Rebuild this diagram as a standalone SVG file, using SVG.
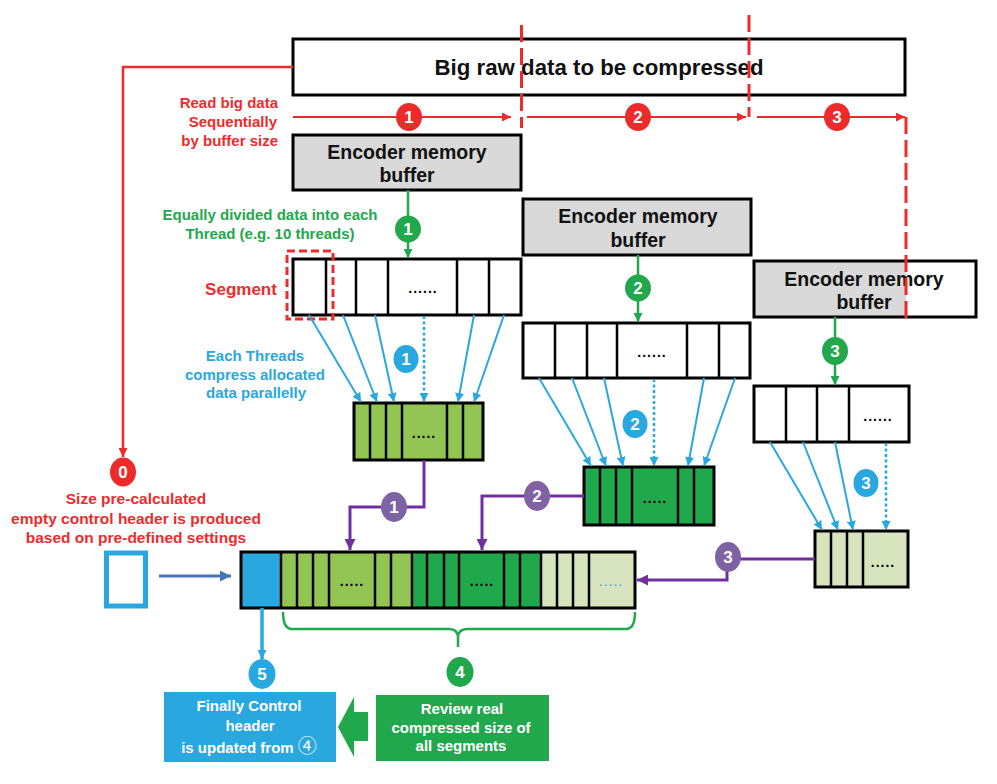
<svg xmlns="http://www.w3.org/2000/svg" width="997" height="784" viewBox="0 0 997 784">
<style>
text{font-family:"Liberation Sans","DejaVu Sans",Arial,sans-serif;font-weight:bold}
.box{fill:#fff;stroke:#000;stroke-width:3}
.enc{fill:#d9d9d9;stroke:#000;stroke-width:3}
.div{stroke:#000;stroke-width:2.5}
.t-enc{font-size:19.5px;fill:#111;text-anchor:middle}
.red{fill:#ee2b2b}
.grn{fill:#22a84c}
.blu{fill:#29a8e0}
.pur{fill:#7f62a4}
.num{font-size:17px;fill:#fff;text-anchor:middle}
.rdash{stroke:#ee2b2b;stroke-width:3;stroke-dasharray:17 6;fill:none}
.rline{stroke:#ee2b2b;stroke-width:2;fill:none}
.gline{stroke:#22a84c;stroke-width:2.5;fill:none}
.bline{stroke:#29a8e0;stroke-width:2;fill:none}
.bdot{stroke:#29a8e0;stroke-width:2.5;stroke-dasharray:3 2.5;fill:none}
.pline{stroke:#7030a0;stroke-width:3;fill:none}
.dots{font-size:14px;fill:#000;text-anchor:middle;letter-spacing:1px}
</style>
<defs>
<marker id="ar" viewBox="0 0 10 10" refX="10" refY="5" markerWidth="9" markerHeight="9" markerUnits="userSpaceOnUse" orient="auto"><path d="M0,0 L10,5 L0,10 z" fill="#ee2b2b"/></marker>
<marker id="ag" viewBox="0 0 10 10" refX="10" refY="5" markerWidth="9" markerHeight="9" markerUnits="userSpaceOnUse" orient="auto"><path d="M0,0 L10,5 L0,10 z" fill="#22a84c"/></marker>
<marker id="ab" viewBox="0 0 10 10" refX="10" refY="5" markerWidth="9" markerHeight="9" markerUnits="userSpaceOnUse" orient="auto"><path d="M0,0 L10,5 L0,10 z" fill="#29a8e0"/></marker>
<marker id="ap" viewBox="0 0 10 10" refX="10" refY="5" markerWidth="11" markerHeight="11" markerUnits="userSpaceOnUse" orient="auto"><path d="M0,0 L10,5 L0,10 z" fill="#7030a0"/></marker>
<marker id="as" viewBox="0 0 10 10" refX="10" refY="5" markerWidth="11" markerHeight="11" markerUnits="userSpaceOnUse" orient="auto"><path d="M0,0 L10,5 L0,10 z" fill="#4a76b8"/></marker>
</defs>

<!-- Big raw data -->
<g id="bigdata">
<rect class="box" x="293" y="39" width="612" height="56"/>
<text x="599" y="75" font-size="22" text-anchor="middle" fill="#111" textLength="329" lengthAdjust="spacingAndGlyphs">Big raw data to be compressed</text>
</g>

<!-- Labels -->
<g id="label-read" class="red" font-size="15" text-anchor="end">
<text x="278" y="108">Read big data</text>
<text x="277" y="127">Sequentially</text>
<text x="278" y="146">by buffer size</text>
</g>
<g id="label-divide" class="grn" font-size="15" text-anchor="middle">
<text x="270" y="220">Equally divided data into each</text>
<text x="270" y="239">Thread (e.g. 10 threads)</text>
</g>
<g id="label-segment"><text x="241" y="295" font-size="17" text-anchor="middle" class="red">Segment</text></g>
<g id="label-threads" class="blu" font-size="15" text-anchor="middle">
<text x="255" y="361">Each Threads</text>
<text x="255" y="380">compress allocated</text>
<text x="256" y="398">data parallelly</text>
</g>
<g id="label-size" class="red" font-size="15.5" text-anchor="middle">
<text x="136" y="504">Size pre-calculated</text>
<text x="136" y="524">empty control header is produced</text>
<text x="136" y="543">based on pre-defined settings</text>
</g>

<!-- Encoders -->
<g id="encoder1">
<rect class="enc" x="293" y="135" width="228" height="55"/>
<text class="t-enc" x="407" y="159">Encoder memory</text>
<text class="t-enc" x="407" y="182">buffer</text>
</g>
<g id="encoder2">
<rect class="enc" x="523" y="199" width="228" height="56"/>
<text class="t-enc" x="638" y="223">Encoder memory</text>
<text class="t-enc" x="638" y="247">buffer</text>
</g>
<g id="encoder3">
<rect x="754" y="261" width="222" height="56" fill="#fff"/>
<rect x="754" y="261" width="152" height="56" fill="#d9d9d9"/>
<rect x="754" y="261" width="222" height="56" fill="none" stroke="#000" stroke-width="3"/>
<text class="t-enc" x="864" y="286">Encoder memory</text>
<text class="t-enc" x="864" y="309">buffer</text>
</g>

<!-- Segments -->
<g id="segment1">
<rect class="box" x="293" y="259" width="228" height="56"/>
<path class="div" d="M326,259V315M356,259V315M388,259V315M457,259V315M489,259V315"/>
<text class="dots" x="423" y="293">......</text>
<rect x="287" y="251" width="46" height="68" fill="none" stroke="#ee2b2b" stroke-width="3" stroke-dasharray="8 4"/>
</g>
<g id="segment2">
<rect class="box" x="523" y="323" width="227" height="55"/>
<path class="div" d="M555,323V378M587,323V378M617,323V378M687,323V378M719,323V378"/>
<text class="dots" x="652" y="357">......</text>
</g>
<g id="segment3">
<rect class="box" x="754" y="386" width="155" height="56"/>
<path class="div" d="M786,386V442M817,386V442M849,386V442"/>
<text class="dots" x="878" y="421">......</text>
</g>

<!-- Compressed blocks -->
<g id="block1">
<rect x="354" y="403" width="129" height="57" fill="#92c553" stroke="#000" stroke-width="3"/>
<path class="div" d="M370,403V460M386,403V460M402,403V460M447,403V460M463,403V460"/>
<text class="dots" x="424" y="438">.....</text>
</g>
<g id="block2">
<rect x="584" y="467" width="130" height="58" fill="#22a84c" stroke="#000" stroke-width="3"/>
<path class="div" d="M600,467V525M616,467V525M632,467V525M678,467V525M694,467V525"/>
<text class="dots" x="655" y="503">.....</text>
</g>
<g id="block3">
<rect x="815" y="531" width="93" height="56" fill="#d7e4bd" stroke="#000" stroke-width="3"/>
<path class="div" d="M831,531V587M847,531V587M863,531V587"/>
<text class="dots" x="883" y="567">.....</text>
</g>

<!-- Output row -->
<g id="output">
<rect x="241" y="552" width="40" height="56" fill="#29a8e0"/>
<rect x="281" y="552" width="131" height="56" fill="#92c553"/>
<rect x="412" y="552" width="129" height="56" fill="#22a84c"/>
<rect x="541" y="552" width="94" height="56" fill="#d7e4bd"/>
<path class="div" d="M281,552V608M297,552V608M313,552V608M329,552V608M375,552V608M391,552V608M412,552V608M427,552V608M444,552V608M459,552V608M504,552V608M520,552V608M541,552V608M557,552V608M573,552V608M589,552V608"/>
<rect x="241" y="552" width="394" height="56" fill="none" stroke="#000" stroke-width="3"/>
<text class="dots" x="352" y="586">.....</text>
<text class="dots" x="482" y="586">.....</text>
<text class="dots" x="611" y="586" style="fill:#29a8e0;font-weight:normal">.....</text>
</g>

<g id="header-icon">
<rect x="106.5" y="553" width="39" height="53" fill="#fff" stroke="#29a8e0" stroke-width="5"/>
</g>

<!-- Connectors -->
<g id="connectors">
<path class="rdash" d="M521.5,25V128"/>
<path class="rdash" d="M749,15V117"/>
<path class="rdash" d="M906,117V318"/>
<path class="rline" d="M293,117H511" marker-end="url(#ar)"/>
<path class="rline" d="M527,117H746" marker-end="url(#ar)"/>
<path class="rline" d="M757,117H905" marker-end="url(#ar)"/>
<path d="M293,67H123V457" stroke="#ee2b2b" stroke-width="2.5" fill="none" marker-end="url(#ar)"/>
<path class="gline" d="M408,190V258" marker-end="url(#ag)"/>
<path class="gline" d="M638,255V322" marker-end="url(#ag)"/>
<path class="gline" d="M835,317V385" marker-end="url(#ag)"/>
<g marker-end="url(#ab)">
<path class="bline" d="M309,315L361,402"/>
<path class="bline" d="M343,315L377,402"/>
<path class="bline" d="M375,315L394,402"/>
<path class="bdot" d="M424,316V402"/>
<path class="bline" d="M474,315L458,402"/>
<path class="bline" d="M504,315L474,402"/>
<path class="bline" d="M539,378L591,466"/>
<path class="bline" d="M572,378L606,466"/>
<path class="bline" d="M604,378L623,466"/>
<path class="bdot" d="M654,379V466"/>
<path class="bline" d="M704,378L688,466"/>
<path class="bline" d="M735,378L704,466"/>
<path class="bline" d="M770,442L822,530"/>
<path class="bline" d="M803,442L838,530"/>
<path class="bline" d="M835,442L853,530"/>
<path class="bdot" d="M886,443V530"/>
</g>
<path class="pline" d="M424,460V507H350V550" marker-end="url(#ap)"/>
<path class="pline" d="M584,496H482V550" marker-end="url(#ap)"/>
<path class="pline" d="M815,559H727V580H637" marker-end="url(#ap)"/>
<path d="M159,576H231" stroke="#4a76b8" stroke-width="3" fill="none" marker-end="url(#as)"/>
<path d="M262,608V659" stroke="#29a8e0" stroke-width="3.5" fill="none" marker-end="url(#ab)"/>
<path d="M283,612Q283,629 292,629H449Q458,629 458,638V647M458,638Q458,629 467,629H626Q635,629 635,612" stroke="#22a84c" stroke-width="2.5" fill="none"/>
</g>

<!-- Number badges -->
<g id="badges">
<g id="r1"><ellipse class="red" cx="409" cy="117" rx="13" ry="14"/><text class="num" x="409" y="123">1</text></g>
<g id="r2"><ellipse class="red" cx="638" cy="117" rx="13" ry="14"/><text class="num" x="638" y="123">2</text></g>
<g id="r3"><ellipse class="red" cx="837" cy="117" rx="13" ry="14"/><text class="num" x="837" y="123">3</text></g>
<g id="r0"><ellipse class="red" cx="123" cy="472" rx="13" ry="14.5"/><text class="num" x="123" y="478">0</text></g>
<g id="g1"><ellipse class="grn" cx="408" cy="229" rx="13" ry="13.5"/><text class="num" x="408" y="235">1</text></g>
<g id="g2"><ellipse class="grn" cx="638" cy="288" rx="13" ry="13.5"/><text class="num" x="638" y="294">2</text></g>
<g id="g3"><ellipse class="grn" cx="835" cy="351" rx="13" ry="14"/><text class="num" x="835" y="357">3</text></g>
<g id="b1"><ellipse class="blu" cx="406" cy="359" rx="12.5" ry="14"/><text class="num" x="406" y="365">1</text></g>
<g id="b2"><ellipse class="blu" cx="635" cy="424" rx="12.5" ry="14"/><text class="num" x="635" y="430">2</text></g>
<g id="b3"><ellipse class="blu" cx="866" cy="483" rx="12.5" ry="14"/><text class="num" x="866" y="489">3</text></g>
<g id="p1"><ellipse class="pur" cx="394" cy="507" rx="13" ry="15"/><text class="num" x="394" y="513">1</text></g>
<g id="p2"><ellipse class="pur" cx="537" cy="496" rx="13" ry="15"/><text class="num" x="537" y="502">2</text></g>
<g id="p3"><ellipse class="pur" cx="728" cy="557" rx="13" ry="15"/><text class="num" x="728" y="563">3</text></g>
<g id="n4"><ellipse class="grn" cx="460" cy="672" rx="13.5" ry="15"/><text class="num" x="460" y="678">4</text></g>
<g id="n5"><ellipse class="blu" cx="262" cy="674" rx="13.5" ry="15"/><text class="num" x="262" y="680">5</text></g>
</g>

<!-- Bottom boxes -->
<g id="final-header">
<rect x="164" y="692" width="172" height="70" fill="#29a8e0"/>
<g fill="#fff" font-size="15" text-anchor="middle">
<text x="249" y="711">Finally Control</text>
<text x="250" y="731">header</text>
<text x="249" y="753">is updated from <tspan font-family="'Noto Sans CJK KR','DejaVu Sans',sans-serif" font-weight="normal" font-size="19">④</tspan></text>
</g>
</g>
<g id="big-arrow">
<polygon points="338,727 354,697 354,712 368,712 368,741 354,741 354,757" fill="#22a84c"/>
</g>
<g id="review">
<rect x="376" y="695" width="173" height="66" fill="#22a84c"/>
<g fill="#fff" font-size="15" text-anchor="middle">
<text x="462" y="714">Review real</text>
<text x="461" y="733">compressed size of</text>
<text x="461" y="751">all segments</text>
</g>
</g>
</svg>
